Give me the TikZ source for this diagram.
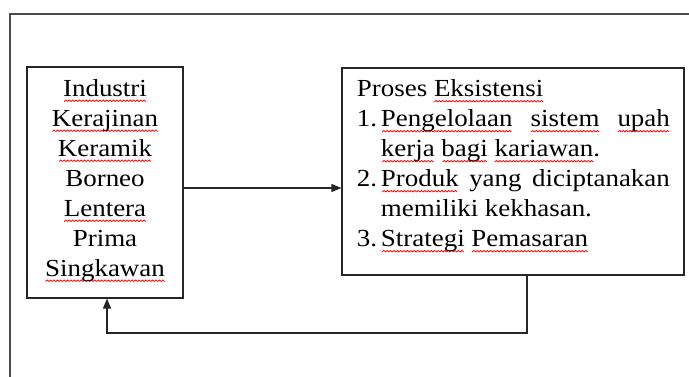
\documentclass[tikz,border=0pt]{standalone}
\usepackage{fontspec}
\setmainfont{Liberation Serif}[FakeStretch=1.1]
\usetikzlibrary{arrows.meta}
\newsavebox\wavebox
\newcommand\sq[1]{\setbox0\hbox{#1}\rlap{\raisebox{-5pt}[0pt][0pt]{\hbox to\wd0{\cleaders\copy\wavebox\hfil}}}\box0\relax}
\tikzset{
  frame/.style={draw=black!70, line width=1.3pt},
  boxnode/.style={draw=black!85, line width=1.1pt, inner sep=0pt},
  txt/.style={inner sep=0pt, font=\fontsize{24.5pt}{30pt}\selectfont},
  conn/.style={draw=black!85, line width=1.1pt},
  tip/.style={-{Triangle[length=10pt,width=8pt]}}
}
\begin{document}
\sbox\wavebox{\begin{pgfpicture}%
\pgfpathrectangle{\pgfpointorigin}{\pgfpoint{3.4pt}{1.5pt}}\pgfusepath{use as bounding box}%
\pgfsetcolor{red}\pgfsetlinewidth{0.8pt}%
\pgfpathmoveto{\pgfpoint{0pt}{0pt}}\pgfpathlineto{\pgfpoint{1.7pt}{1.5pt}}\pgfpathlineto{\pgfpoint{3.4pt}{0pt}}\pgfusepath{stroke}%
\end{pgfpicture}}%
\begin{tikzpicture}[x=1pt,y=1pt]
\useasboundingbox (0,0) rectangle (689,377);
% outer frame
\coordinate (o1) at (10,0);
\coordinate (o2) at (10,363);
\coordinate (o3) at (689,363);
\draw[frame] (o1) -- (o2) -- (o3);
% boxes
\node[boxnode, minimum width=156pt, minimum height=231pt] (L) at (105,194.5) {};
\node[boxnode, minimum width=342pt, minimum height=207pt] (R) at (513,205.5) {};
% left text (base = last line)
\node[txt, align=center, anchor=base] (Lt) at (105,100.5) {\sq{Industri}\\\sq{Kerajinan}\\\sq{Keramik}\\Borneo\\\sq{Lentera}\\Prima\\\sq{Singkawan}};
% right text
\node[txt, text width=313pt, align=justify, anchor=base west] (Rt) at (356.7,280) {%
\setlength\parskip{0pt}\noindent Proses \sq{Eksistensi}\par
\noindent\hangindent=24pt\hangafter=1\makebox[24pt][l]{1.}\sq{Pengelolaan} \sq{sistem} \sq{upah}\linebreak \sq{kerja} \sq{bagi} \sq{kariawan}.\par
\noindent\hangindent=24pt\hangafter=1\makebox[24pt][l]{2.}\sq{Produk} yang diciptanakan\linebreak memiliki kekhasan.\par
\noindent\hangindent=24pt\hangafter=1\makebox[24pt][l]{3.}\sq{Strategi} \sq{Pemasaran}\par};
% connectors
\coordinate (a) at (0,189);
\draw[conn, tip] (L.east |- a) -- (R.west |- a);
\coordinate (f1) at (527,44);
\coordinate (f2) at (107,44);
\draw[conn, tip] (R.south -| f1) -- (f1) -- (f2) -- (L.south -| f2);
\end{tikzpicture}
\end{document}
